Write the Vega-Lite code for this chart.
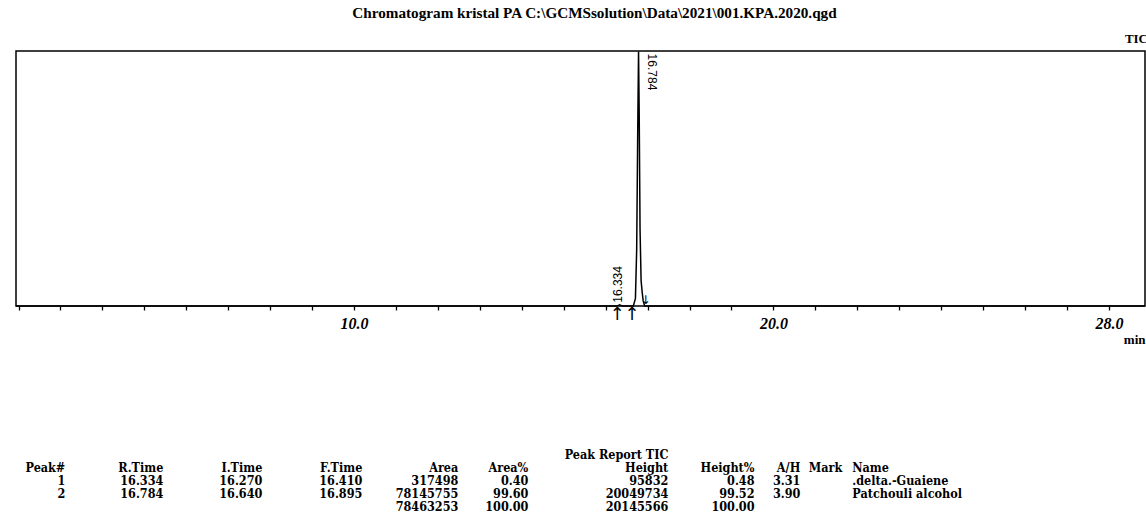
{
  "$schema": "https://vega.github.io/schema/vega-lite/v6.json",
  "background": "white",
  "padding": {"left": 12, "top": 5, "right": 4, "bottom": 0},
  "title": {
    "text": "Chromatogram kristal PA C:\\GCMSsolution\\Data\\2021\\001.KPA.2020.qgd",
    "anchor": "middle", "frame": "group", "dx": 14, "offset": 11,
    "font": "Liberation Serif", "fontSize": 15.2, "fontWeight": "bold", "color": "black"
  },
  "datasets": {
    "trace": [
      {"t": 1.94, "i": 0}, {"t": 16.24, "i": 0}, {"t": 16.29, "i": 30000}, {"t": 16.334, "i": 95832},
      {"t": 16.37, "i": 35000}, {"t": 16.41, "i": 0}, {"t": 16.66, "i": 0}, {"t": 16.71, "i": 600000},
      {"t": 16.74, "i": 4500000}, {"t": 16.765, "i": 14000000}, {"t": 16.784, "i": 20049734},
      {"t": 16.8, "i": 15000000}, {"t": 16.82, "i": 6000000}, {"t": 16.845, "i": 2000000},
      {"t": 16.87, "i": 1100000}, {"t": 16.895, "i": 400000}, {"t": 16.93, "i": 0}, {"t": 28.86, "i": 0}
    ],
    "peaks": [
      {"t": 16.334, "i": 95832, "label": "16.334"},
      {"t": 16.784, "i": 20049734, "label": "16.784"}
    ],
    "marks": [
      {"t": 16.28, "kind": "start"}, {"t": 16.63, "kind": "start"}, {"t": 16.95, "kind": "end"}
    ],
    "table": [
      {"r": 0, "k": 1, "t": "Peak#"}, {"r": 0, "k": 2, "t": "R.Time"}, {"r": 0, "k": 3, "t": "I.Time"},
      {"r": 0, "k": 4, "t": "F.Time"}, {"r": 0, "k": 5, "t": "Area"}, {"r": 0, "k": 6, "t": "Area%"},
      {"r": 0, "k": 7, "t": "Height"}, {"r": 0, "k": 8, "t": "Height%"}, {"r": 0, "k": 9, "t": "A/H"},
      {"r": 0, "k": 10, "t": "Mark"}, {"r": 0, "k": 11, "t": "Name"},
      {"r": 1, "k": 1, "t": "1"}, {"r": 1, "k": 2, "t": "16.334"}, {"r": 1, "k": 3, "t": "16.270"},
      {"r": 1, "k": 4, "t": "16.410"}, {"r": 1, "k": 5, "t": "317498"}, {"r": 1, "k": 6, "t": "0.40"},
      {"r": 1, "k": 7, "t": "95832"}, {"r": 1, "k": 8, "t": "0.48"}, {"r": 1, "k": 9, "t": "3.31"},
      {"r": 1, "k": 11, "t": ".delta.-Guaiene"},
      {"r": 2, "k": 1, "t": "2"}, {"r": 2, "k": 2, "t": "16.784"}, {"r": 2, "k": 3, "t": "16.640"},
      {"r": 2, "k": 4, "t": "16.895"}, {"r": 2, "k": 5, "t": "78145755"}, {"r": 2, "k": 6, "t": "99.60"},
      {"r": 2, "k": 7, "t": "20049734"}, {"r": 2, "k": 8, "t": "99.52"}, {"r": 2, "k": 9, "t": "3.90"},
      {"r": 2, "k": 11, "t": "Patchouli alcohol"},
      {"r": 3, "k": 5, "t": "78463253"}, {"r": 3, "k": 6, "t": "100.00"},
      {"r": 3, "k": 7, "t": "20145566"}, {"r": 3, "k": 8, "t": "100.00"}
    ]
  },
  "spacing": 101,
  "config": {"view": {"stroke": null}, "text": {"color": "black"}},
  "vconcat": [
    {
      "width": 1129,
      "height": 255,
      "view": {"stroke": "black", "strokeWidth": 1.5},
      "title": {"text": "TIC", "anchor": "end", "offset": 3, "font": "Liberation Serif", "fontSize": 13, "fontWeight": "bold", "color": "black"},
      "layer": [
        {
          "data": {"name": "trace"},
          "mark": {"type": "line", "color": "black", "strokeWidth": 1.5},
          "encoding": {
            "x": {
              "field": "t", "type": "quantitative",
              "scale": {"domain": [1.94, 28.86], "nice": false, "zero": false},
              "axis": {
                "values": [2,3,4,5,6,7,8,9,10,11,12,13,14,15,16,17,18,19,20,21,22,23,24,25,26,27,28],
                "domain": false, "grid": false,
                "tickSize": 4, "tickColor": "black", "tickWidth": 1.3,
                "labelExpr": "datum.value == 10 || datum.value == 20 || datum.value == 28 ? format(datum.value, '.1f') : ''",
                "labelFont": "Liberation Serif", "labelFontStyle": "italic", "labelFontWeight": "bold",
                "labelFontSize": 16, "labelColor": "black", "labelPadding": 5,
                "labelOverlap": false, "labelFlush": false, "labelBound": false,
                "title": "min", "titleAnchor": "end", "titleFont": "Liberation Serif", "titleFontWeight": "bold",
                "titleFontSize": 13, "titleColor": "black", "titlePadding": 2,
                "encode": {"ticks": {"update": {"y2": {"signal": "datum.value % 5 == 0 ? 8 : 4"}}}}
              }
            },
            "y": {
              "field": "i", "type": "quantitative",
              "scale": {"domain": [0, 20096976], "nice": false},
              "axis": null
            }
          }
        },
        {
          "data": {"name": "peaks"},
          "transform": [{"filter": "datum.label == '16.784'"}],
          "mark": {"type": "text", "angle": 90, "align": "left", "baseline": "middle", "dx": 2, "dy": -13, "font": "Liberation Sans", "fontSize": 12},
          "encoding": {
            "x": {"field": "t", "type": "quantitative"},
            "y": {"field": "i", "type": "quantitative"},
            "text": {"field": "label"}
          }
        },
        {
          "data": {"name": "peaks"},
          "transform": [{"filter": "datum.label == '16.334'"}],
          "mark": {"type": "text", "angle": 270, "align": "left", "baseline": "middle", "dx": 2, "dy": -2, "font": "Liberation Sans", "fontSize": 12},
          "encoding": {
            "x": {"field": "t", "type": "quantitative"},
            "y": {"field": "i", "type": "quantitative"},
            "text": {"field": "label"}
          }
        },
        {
          "data": {"name": "marks"},
          "transform": [{"filter": "datum.kind == 'start'"}],
          "mark": {"type": "text", "text": "↑", "baseline": "top", "dy": 0, "font": "DejaVu Sans", "fontSize": 18},
          "encoding": {
            "x": {"field": "t", "type": "quantitative"},
            "y": {"datum": 0}
          }
        },
        {
          "data": {"name": "marks"},
          "transform": [{"filter": "datum.kind == 'end'"}],
          "mark": {"type": "text", "text": "↓", "baseline": "bottom", "dy": 1, "font": "DejaVu Sans", "fontSize": 12},
          "encoding": {
            "x": {"field": "t", "type": "quantitative"},
            "y": {"datum": 0}
          }
        },
        {
          "mark": {"type": "text", "align": "left", "baseline": "top", "dx": 1, "dy": 4, "font": "Liberation Serif", "fontSize": 16, "fontWeight": "bold"},
          "encoding": {
            "x": {"datum": 1.94},
            "y": {"datum": 20096976},
            "text": {"datum": 20096976, "format": ",d"}
          }
        }
      ]
    },
    {
      "width": 1129,
      "height": 52,
      "title": {"text": "Peak Report TIC", "anchor": "middle", "dx": 36, "offset": 0, "font": "DejaVu Serif Condensed, DejaVu Serif", "fontSize": 12.5, "fontWeight": "bold", "color": "black"},
      "data": {"name": "table"},
      "encoding": {
        "x": {
          "field": "k", "type": "quantitative",
          "scale": {"domain": [1,2,3,4,5,6,7,8,9,10,11], "range": [49.3,147.3,246.3,346.3,442.3,512.3,652.3,738.5,784.3,826.3,836.3]},
          "axis": null
        },
        "y": {
          "field": "r", "type": "ordinal",
          "scale": {"domain": [0,1,2,3], "paddingInner": 0, "paddingOuter": 0},
          "axis": null
        },
        "text": {"field": "t"}
      },
      "layer": [
        {
          "transform": [{"filter": "datum.k != 11"}],
          "mark": {"type": "text", "align": "right", "baseline": "middle", "font": "DejaVu Serif Condensed, DejaVu Serif", "fontSize": 12.5, "fontWeight": "bold"}
        },
        {
          "transform": [{"filter": "datum.k == 11"}],
          "mark": {"type": "text", "align": "left", "baseline": "middle", "font": "DejaVu Serif Condensed, DejaVu Serif", "fontSize": 12.5, "fontWeight": "bold"}
        }
      ]
    }
  ]
}
